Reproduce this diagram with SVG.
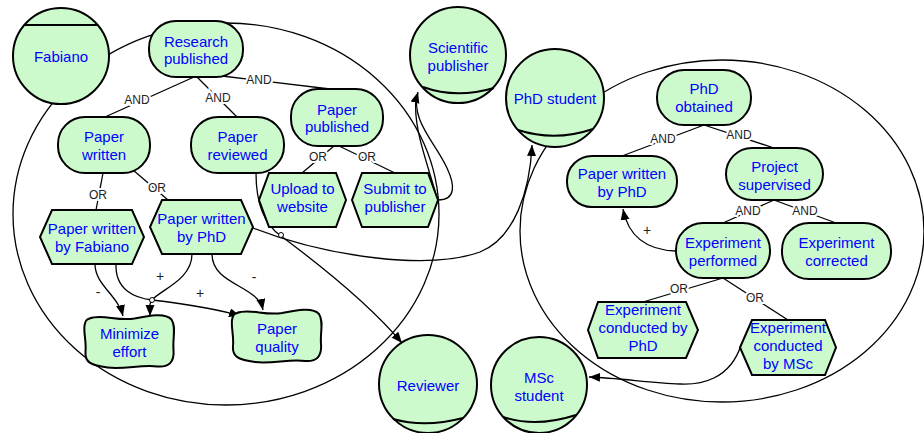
<svg xmlns="http://www.w3.org/2000/svg" width="924" height="433" viewBox="0 0 924 433">
<style>
.nd{fill:#ccfacc;stroke:#000;stroke-width:2}
.bd{fill:none;stroke:#000;stroke-width:1.3}
.ln{fill:none;stroke:#000;stroke-width:1.3}
.t{font-family:"Liberation Sans",Arial,sans-serif;font-size:15px;fill:#0000ff;text-anchor:middle}
.lb{font-family:"Liberation Sans",Arial,sans-serif;font-size:12px;fill:#222;text-anchor:middle;stroke:#fff;stroke-width:4;paint-order:stroke}
.sg{font-family:"Liberation Sans",Arial,sans-serif;font-size:14px;fill:#222;text-anchor:middle}
.ra{fill:none;stroke:#000;stroke-width:2}
</style>
<defs>
<marker id="ar" markerWidth="12" markerHeight="10" refX="11" refY="4.5" orient="auto" markerUnits="userSpaceOnUse"><path d="M0,0 L11,4.5 L0,9 Z" fill="#000"/></marker>
<path id="soft" d="M -40,-23 C -28,-28 -12,-20 5,-23 C 20,-26 36,-29 42,-22 C 47,-14 43,-4 44,8 C 45,20 40,26 28,25 C 12,23 -5,28 -22,26 C -38,24 -45,21 -44,10 C -43,0 -46,-8 -45,-16 C -44,-21 -43,-22 -40,-23 Z"/>
</defs>
<rect width="924" height="433" fill="#fff"/>
<g id="boundaries">
<ellipse class="bd" cx="226" cy="214" rx="213" ry="191"/>
<ellipse class="bd" cx="722" cy="231" rx="202" ry="171"/>
</g>
<g id="connectors">
<line class="ln" x1="194" y1="77" x2="105" y2="117"/>
<line class="ln" x1="197" y1="77" x2="237" y2="117"/>
<path class="ln" d="M222,76 L330,89"/>
<line class="ln" x1="103" y1="173" x2="96" y2="210"/>
<line class="ln" x1="133" y1="170" x2="168" y2="200"/>
<line class="ln" x1="334" y1="146" x2="302" y2="173"/>
<line class="ln" x1="339" y1="146" x2="395" y2="173"/>
<line class="ln" x1="704" y1="125" x2="622" y2="156"/>
<line class="ln" x1="704" y1="125" x2="774" y2="148"/>
<line class="ln" x1="774" y1="200" x2="723" y2="223"/>
<line class="ln" x1="774" y1="200" x2="836" y2="223"/>
<line class="ln" x1="723" y1="278" x2="643" y2="302"/>
<line class="ln" x1="723" y1="278" x2="788" y2="320"/>
<text class="lb" x="137" y="104">AND</text>
<text class="lb" x="218" y="102">AND</text>
<text class="lb" x="259" y="84">AND</text>
<text class="lb" x="98" y="199">OR</text>
<text class="lb" x="157" y="192">OR</text>
<text class="lb" x="318" y="161">OR</text>
<text class="lb" x="367" y="161">OR</text>
<text class="lb" x="663" y="143">AND</text>
<text class="lb" x="739" y="139">AND</text>
<text class="lb" x="748" y="215">AND</text>
<text class="lb" x="805" y="215">AND</text>
<text class="lb" x="679" y="293">OR</text>
<text class="lb" x="755" y="302">OR</text>
<path class="ln" d="M95,264 C95,285 118,295 123,316" marker-end="url(#ar)"/>
<path class="ln" d="M116,264 C115,290 135,298 152,300 C185,304 215,308 240,316" marker-end="url(#ar)"/>
<path class="ln" d="M192,254 C192,280 160,290 152,300 C148,305 150,310 150,316" marker-end="url(#ar)"/>
<path class="ln" d="M212,254 C212,285 258,285 263,310" marker-end="url(#ar)"/>
<path class="ln" d="M676,251 C645,250 628,235 623,209" marker-end="url(#ar)"/>
<text class="sg" x="98" y="297">-</text>
<text class="sg" x="200" y="298">+</text>
<text class="sg" x="160" y="281">+</text>
<text class="sg" x="254" y="282">-</text>
<text class="sg" x="647" y="235">+</text>
<path class="ln" d="M438,200 C456,200 455,185 447,168 C435,142 410,120 418,92" marker-end="url(#ar)"/>
<path class="ln" d="M416,97 C413,128 426,158 436,195"/>
<path class="ln" d="M253,228 C330,258 430,270 480,252 C515,238 530,190 532,145" marker-end="url(#ar)"/>
<path class="ln" d="M256,173 C256,205 265,225 281,236 C320,265 370,305 402,343" marker-end="url(#ar)"/>
<path class="ln" d="M741,345 C730,380 700,385 680,384 C650,383 620,378 589,377" marker-end="url(#ar)"/>
<circle cx="281" cy="235" r="2.5" fill="#fff" stroke="#000" stroke-width="1"/>
<circle cx="152" cy="300" r="2.5" fill="#fff" stroke="#000" stroke-width="1"/>
</g>
<g id="fabiano">
<circle class="nd" cx="61" cy="56" r="48"/>
<line x1="24" y1="25" x2="98" y2="25" stroke="#000" stroke-width="2"/>
<text class="t" x="61" y="62">Fabiano</text>
</g>
<g id="scientific-publisher">
<circle class="nd" cx="458" cy="55" r="48"/>
<path class="ra" d="M423,87 Q456,99 494,88"/>
<text class="t" x="458" y="53">Scientific</text>
<text class="t" x="458" y="71">publisher</text>
</g>
<g id="phd-student">
<circle class="nd" cx="555" cy="98" r="49"/>
<path class="ra" d="M518,130 Q555,142 593,129"/>
<text class="t" x="555" y="104">PhD student</text>
</g>
<g id="reviewer">
<circle class="nd" cx="428" cy="384" r="49"/>
<path class="ra" d="M393,419 Q425,428 463,418"/>
<text class="t" x="428" y="391">Reviewer</text>
</g>
<g id="msc-student">
<circle class="nd" cx="539" cy="385" r="48"/>
<path class="ra" d="M503,417 Q536,428 576,415"/>
<text class="t" x="539" y="383">MSc</text>
<text class="t" x="539" y="401">student</text>
</g>
<g id="research-published">
<rect class="nd" x="149" y="21" width="94" height="56" rx="27" ry="27"/>
<text class="t" x="196" y="47">Research</text>
<text class="t" x="196" y="64">published</text>
</g>
<g id="paper-written">
<rect class="nd" x="58" y="117" width="92" height="56" rx="27" ry="27"/>
<text class="t" x="104" y="142">Paper</text>
<text class="t" x="104" y="160">written</text>
</g>
<g id="paper-reviewed">
<rect class="nd" x="191" y="117" width="93" height="56" rx="27" ry="27"/>
<text class="t" x="237.5" y="142">Paper</text>
<text class="t" x="237.5" y="160">reviewed</text>
</g>
<g id="paper-published">
<rect class="nd" x="291" y="89" width="92" height="57" rx="27" ry="27"/>
<text class="t" x="337" y="115">Paper</text>
<text class="t" x="337" y="132">published</text>
</g>
<g id="upload-to-website">
<polygon class="nd" points="269,173 336,173 346,200 336,227 269,227 259,200"/>
<text class="t" x="302.5" y="194">Upload to</text>
<text class="t" x="302.5" y="212">website</text>
</g>
<g id="submit-to-publisher">
<polygon class="nd" points="362,173 428,173 438,200 428,227 362,227 352,200"/>
<text class="t" x="395" y="194">Submit to</text>
<text class="t" x="395" y="212">publisher</text>
</g>
<g id="paper-written-by-fabiano">
<polygon class="nd" points="52,210 132,210 144,237 132,264 52,264 40,237"/>
<text class="t" x="92" y="234">Paper written</text>
<text class="t" x="92" y="252">by Fabiano</text>
</g>
<g id="paper-written-by-phd-task">
<polygon class="nd" points="162,200 241,200 253,227 241,254 162,254 150,227"/>
<text class="t" x="201.5" y="224">Paper written</text>
<text class="t" x="201.5" y="242">by PhD</text>
</g>
<g id="minimize-effort">
<use href="#soft" class="nd" transform="translate(129.5,341.5)"/>
<text class="t" x="129.5" y="339">Minimize</text>
<text class="t" x="129.5" y="357">effort</text>
</g>
<g id="paper-quality">
<use href="#soft" class="nd" transform="translate(277,336)"/>
<text class="t" x="277" y="334">Paper</text>
<text class="t" x="277" y="352">quality</text>
</g>
<g id="phd-obtained">
<rect class="nd" x="657" y="70" width="94" height="55" rx="27" ry="27"/>
<text class="t" x="704" y="94">PhD</text>
<text class="t" x="704" y="112">obtained</text>
</g>
<g id="paper-written-by-phd-goal">
<rect class="nd" x="567" y="156" width="110" height="51" rx="25" ry="25"/>
<text class="t" x="622" y="179">Paper written</text>
<text class="t" x="622" y="197">by PhD</text>
</g>
<g id="project-supervised">
<rect class="nd" x="726" y="148" width="97" height="52" rx="26" ry="26"/>
<text class="t" x="774.5" y="172">Project</text>
<text class="t" x="774.5" y="190">supervised</text>
</g>
<g id="experiment-performed">
<rect class="nd" x="676" y="223" width="94" height="55" rx="27" ry="27"/>
<text class="t" x="723" y="248">Experiment</text>
<text class="t" x="723" y="266">performed</text>
</g>
<g id="experiment-corrected">
<rect class="nd" x="782" y="223" width="109" height="56" rx="27" ry="27"/>
<text class="t" x="836.5" y="248">Experiment</text>
<text class="t" x="836.5" y="266">corrected</text>
</g>
<g id="experiment-conducted-by-phd">
<polygon class="nd" points="598,302 686,302 698,330 686,358 598,358 588,330"/>
<text class="t" x="643" y="315">Experiment</text>
<text class="t" x="643" y="333">conducted by</text>
<text class="t" x="643" y="351">PhD</text>
</g>
<g id="experiment-conducted-by-msc">
<polygon class="nd" points="752,320 825,320 836,347.5 825,375 752,375 740,347.5"/>
<text class="t" x="788" y="333">Experiment</text>
<text class="t" x="788" y="351">conducted</text>
<text class="t" x="788" y="369">by MSc</text>
</g>
</svg>
